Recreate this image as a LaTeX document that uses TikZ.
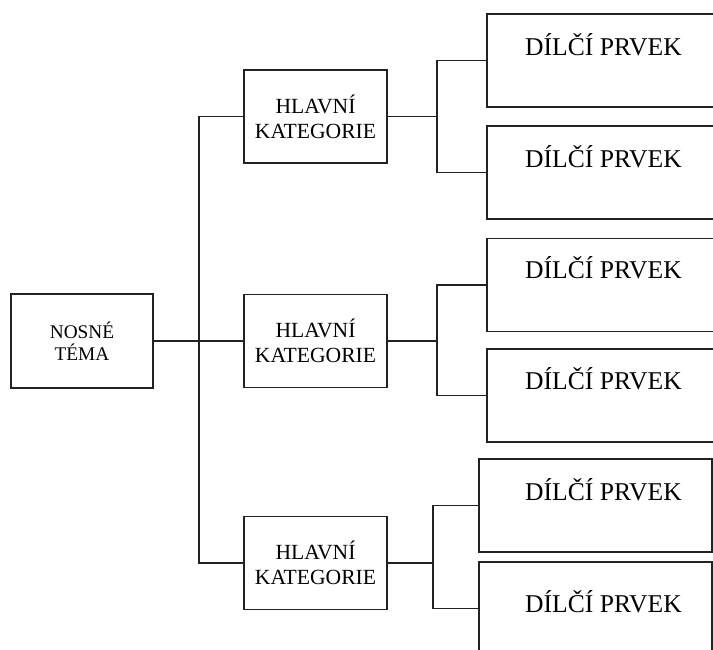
\documentclass[tikz,border=0pt]{standalone}
\usepackage{fontspec}
\setmainfont{Liberation Serif}
\definecolor{ink}{HTML}{222222}
\begin{document}
\begin{tikzpicture}[x=1pt,y=-1pt,line width=1.2pt,
  box/.style={draw=ink,rectangle,inner sep=0pt,outer sep=0pt},
  rootbox/.style={box,minimum width=142pt,minimum height=94pt,align=center,font=\fontsize{19.3}{22}\selectfont},
  catbox/.style={box,minimum width=143pt,minimum height=93pt,align=center,font=\fontsize{21.6}{25}\selectfont},
  subbox/.style={box,minimum width=235pt,minimum height=93pt},
  subboxb/.style={box,minimum width=233pt,minimum height=93pt},
  subtext/.style={inner sep=0pt,font=\fontsize{25.6}{28}\selectfont},
  conn/.style={draw=ink,line width=1.2pt}]
\clip (0,0) rectangle (713,650);
\useasboundingbox (0,0) rectangle (713,650);
% root
\node[rootbox] (root) at (82,341) {NOSNÉ\\TÉMA};
% categories
\node[catbox] (c1) at (315.5,116.5) {HLAVNÍ\\KATEGORIE};
\node[catbox] (c2) at (315.5,341) {HLAVNÍ\\KATEGORIE};
\node[catbox] (c3) at (315.5,563) {HLAVNÍ\\KATEGORIE};
% sub boxes
\node[subbox,anchor=west] (s11) at (487,60.5) {};
\node[subbox,anchor=west] (s12) at (487,172.5) {};
\node[subbox,anchor=west] (s21) at (487,285) {};
\node[subbox,anchor=west] (s22) at (487,395.5) {};
\node[subboxb,anchor=west] (s31) at (479,505.5) {};
\node[subboxb,anchor=west] (s32) at (479,608.5) {};
% sub texts
\node[subtext] (t11) at (603.5,45) {DÍLČÍ PRVEK};
\node[subtext] (t12) at (603.5,157) {DÍLČÍ PRVEK};
\node[subtext] (t21) at (603.5,268) {DÍLČÍ PRVEK};
\node[subtext] (t22) at (603.5,379) {DÍLČÍ PRVEK};
\node[subtext] (t31) at (603.5,490) {DÍLČÍ PRVEK};
\node[subtext] (t32) at (603.5,602) {DÍLČÍ PRVEK};
% trunk
\coordinate (tr1) at (199,116.5);
\coordinate (tr3) at (199,563);
\draw[conn] (c1.west) -- (tr1) -- (tr3) -- (c3.west);
\draw[conn] (root.east) -- (c2.west);
% branches
\coordinate (b1) at (437,116.5);
\coordinate (b2) at (437,341);
\coordinate (b3) at (433,563);
\draw[conn] (c1.east) -- (b1);
\draw[conn] (s11.west) -| (b1) |- (s12.west);
\draw[conn] (c2.east) -- (b2);
\draw[conn] (s21.west) -| (b2) |- (s22.west);
\draw[conn] (c3.east) -- (b3);
\draw[conn] (s31.west) -| (b3) |- (s32.west);
\end{tikzpicture}
\end{document}
